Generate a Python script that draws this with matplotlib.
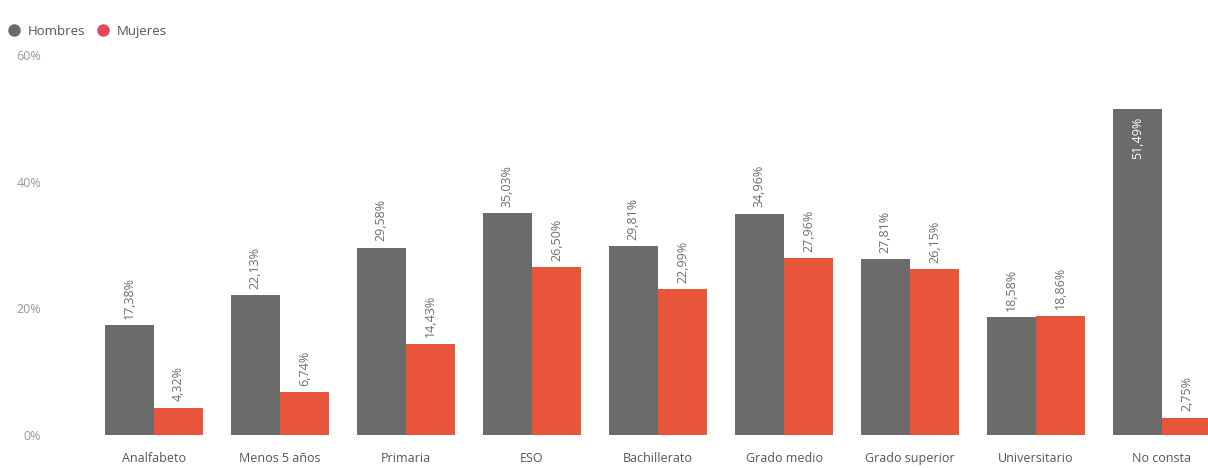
import numpy as np
import matplotlib.pyplot as plt
from matplotlib.lines import Line2D

# Data
categories = ['Analfabeto', 'Menos 5 años', 'Primaria', 'ESO', 'Bachillerato',
              'Grado medio', 'Grado superior', 'Universitario', 'No consta']
hombres = [17.38, 22.13, 29.58, 35.03, 29.81, 34.96, 27.81, 18.58, 51.49]
mujeres = [4.32, 6.74, 14.43, 26.50, 22.99, 27.96, 26.15, 18.86, 2.75]
y_ticks = [0, 20, 40, 60]

grey = '#6b6b6b'
orange = '#e8553a'
legend_red = '#e2475a'
text_grey = '#6e6e6e'

plt.rcParams['font.family'] = ['Open Sans', 'DejaVu Sans']

fig = plt.figure(figsize=(12.08, 4.68), dpi=100)
ax = fig.add_axes([91 / 1208, 33 / 468, (1208 - 91) / 1208, 380 / 468])

x = np.arange(len(categories))
w = 0.39
ax.bar(x - w / 2, hombres, w, color=grey)
ax.bar(x + w / 2, mujeres, w, color=orange)


def fmt(v):
    return f'{v:.2f}%'.replace('.', ',')


# data labels, rotated, above the bars (inside when the bar is tall)
for xi, v in zip(x - w / 2, hombres):
    if v > 45:
        ax.text(xi, v - 1.2, fmt(v), rotation=90, ha='center', va='top',
                fontsize=9, color='white')
    else:
        ax.text(xi, v + 1.0, fmt(v), rotation=90, ha='center', va='bottom',
                fontsize=9, color=text_grey)
for xi, v in zip(x + w / 2, mujeres):
    ax.text(xi, v + 1.0, fmt(v), rotation=90, ha='center', va='bottom',
            fontsize=9, color=text_grey)

ax.set_xlim(-0.5, -0.5 + (1208 - 91) / 126)
ax.set_ylim(0, 60)
ax.set_yticks(y_ticks)
ax.set_yticklabels([f'{t}%' for t in y_ticks])
ax.set_xticks(x)
ax.set_xticklabels(categories)
ax.tick_params(axis='y', length=0, pad=36, labelsize=9, labelcolor='#999999')
ax.tick_params(axis='x', length=0, pad=12, labelsize=9, labelcolor='#555555')
for s in ax.spines.values():
    s.set_visible(False)

handles = [Line2D([], [], marker='o', ls='', color=grey, markersize=8),
           Line2D([], [], marker='o', ls='', color=legend_red, markersize=8)]
fig.legend(handles, ['Hombres', 'Mujeres'], loc='upper left',
           bbox_to_anchor=(-0.01, 0.975), ncol=2, frameon=False, fontsize=9.5,
           handletextpad=0.0, columnspacing=0.4, borderaxespad=0.6,
           labelcolor='#555555')

fig.savefig('out.png', dpi=100)
